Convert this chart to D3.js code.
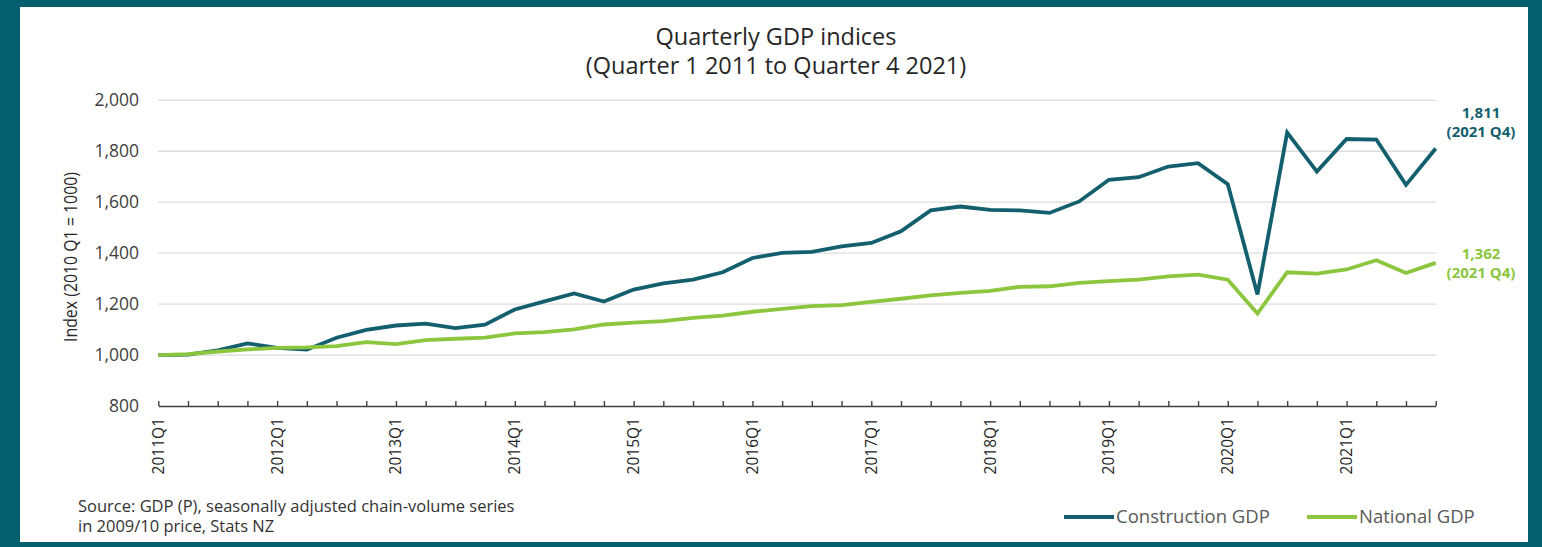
<!DOCTYPE html>
<html>
<head>
<meta charset="utf-8">
<script src="https://cdn.jsdelivr.net/npm/d3@7"></script>
<style>
  html, body { margin: 0; padding: 0; background: #04606f; }
  svg { display: block; }
  text { font-family: "Open Sans", "Noto Sans", "DejaVu Sans", sans-serif; }
</style>
</head>
<body>
<svg id="chart" width="1542" height="547"></svg>
<script>
// ---- Data ----
const quarters = [];
const years = [2011,2012,2013,2014,2015,2016,2017,2018,2019,2020,2021];
years.forEach(y => [1,2,3,4].forEach(q => quarters.push(y + "Q" + q)));

const constructionGDP = [
  1000, 1002, 1018, 1046, 1028, 1021, 1068, 1099, 1116, 1123, 1106, 1119,
  1179, 1211, 1242, 1210, 1257, 1281, 1296, 1325, 1381, 1401, 1405, 1427,
  1440, 1486, 1568, 1583, 1570, 1568, 1558, 1603, 1688, 1698, 1740, 1753,
  1671, 1238, 1873, 1720, 1848, 1846, 1668, 1811
];
const nationalGDP = [
  1000, 1004, 1014, 1022, 1028, 1030, 1035, 1051, 1043, 1059, 1064, 1068,
  1085, 1090, 1101, 1120, 1127, 1133, 1146, 1155, 1170, 1181, 1192, 1196,
  1209, 1221, 1234, 1244, 1252, 1268, 1270, 1283, 1290, 1296, 1309, 1316,
  1296, 1163, 1325, 1320, 1336, 1372, 1322, 1362
];
const yTicks = [800, 1000, 1200, 1400, 1600, 1800, 2000];
const seriesNames = ["Construction GDP", "National GDP"];
const titleLines = ["Quarterly GDP indices", "(Quarter 1 2011 to Quarter 4 2021)"];
const yAxisTitle = "Index (2010 Q1 = 1000)";
const sourceLines = ["Source: GDP (P), seasonally adjusted chain-volume series", "in 2009/10 price, Stats NZ"];
const endLabels = [["1,811", "(2021 Q4)"], ["1,362", "(2021 Q4)"]];

// ---- Styles ----
const colConstruction = "#135f6e";
const colNational = "#8cc63f";
const seriesColors = [colConstruction, colNational];

const svg = d3.select("#chart");

// white panel
svg.append("rect").attr("x", 20).attr("y", 7).attr("width", 1508).attr("height", 535).attr("fill", "#ffffff");

const x = d3.scalePoint().domain(quarters).range([158.3, 1435.7]);
const y = d3.scaleLinear().domain([800, 2000]).range([406, 100.3]);

// gridlines
svg.append("g").selectAll("line").data(yTicks.filter(d => d !== 800)).join("line")
  .attr("x1", 158).attr("x2", 1436)
  .attr("y1", d => y(d)).attr("y2", d => y(d))
  .attr("stroke", "#dcdcdc").attr("stroke-width", 1.3);

// y axis labels
const yAxis = d3.axisLeft(y).tickValues(yTicks).tickSize(0).tickPadding(0)
  .tickFormat(d3.format(","));
const gy = svg.append("g").attr("transform", "translate(139,0)").call(yAxis);
gy.select(".domain").remove();
gy.selectAll("text").attr("font-size", 17.5).attr("fill", "#404040")
  .attr("font-family", "'Open Sans', sans-serif");

// x axis
const xAxis = d3.axisBottom(x).tickSizeInner(-5).tickSizeOuter(0).tickFormat("");
const gx = svg.append("g").attr("transform", "translate(0,406)").call(xAxis);
gx.select(".domain").attr("stroke", "#404040").attr("stroke-width", 1.4);
gx.selectAll(".tick line").attr("stroke", "#404040").attr("stroke-width", 1.4);

// x labels (Q1 only), rotated
svg.append("g").selectAll("text").data(quarters.filter(q => q.endsWith("Q1"))).join("text")
  .attr("transform", d => `translate(${x(d) + 5.5},418) rotate(-90)`)
  .attr("text-anchor", "end")
  .attr("font-size", 15.5)
  .attr("font-family", "'Liberation Sans', Arial, sans-serif")
  .attr("fill", "#262626")
  .text(d => d);

// lines
const line = d3.line().x((d, i) => x(quarters[i])).y(d => y(d));
[constructionGDP, nationalGDP].forEach((vals, k) => {
  svg.append("path").datum(vals)
    .attr("d", line)
    .attr("fill", "none")
    .attr("stroke", seriesColors[k])
    .attr("stroke-width", 3.8)
    .attr("stroke-linejoin", "miter");
});

// end labels
const endYs = [[118, 137], [259, 278]];
endLabels.forEach((lines, k) => {
  lines.forEach((t, j) => {
    svg.append("text").attr("x", 1481).attr("y", endYs[k][j])
      .attr("text-anchor", "middle").attr("font-size", 15).attr("font-weight", "bold")
      .attr("fill", seriesColors[k]).text(t);
  });
});

// title
titleLines.forEach((t, i) => {
  svg.append("text").attr("x", 776).attr("y", 45 + i * 29)
    .attr("text-anchor", "middle").attr("font-size", 23.5)
    .attr("fill", "#262626").text(t);
});

// y axis title (condensed to match narrow font)
svg.append("text")
  .attr("transform", "translate(77,257) rotate(-90)")
  .attr("text-anchor", "middle").attr("font-size", 17.5)
  .attr("font-family", "'Liberation Sans', Arial, sans-serif")
  .attr("textLength", 170).attr("lengthAdjust", "spacingAndGlyphs")
  .attr("fill", "#262626").text(yAxisTitle);

// source
sourceLines.forEach((t, i) => {
  svg.append("text").attr("x", 78).attr("y", 512 + i * 20)
    .attr("font-size", 16.5).attr("fill", "#333333").text(t);
});

// legend
const legendX = [1064, 1307];
seriesNames.forEach((n, k) => {
  svg.append("line").attr("x1", legendX[k]).attr("x2", legendX[k] + 50)
    .attr("y1", 517).attr("y2", 517)
    .attr("stroke", seriesColors[k]).attr("stroke-width", 4);
  svg.append("text").attr("x", legendX[k] + 52).attr("y", 523)
    .attr("font-size", 18.5).attr("fill", "#595959").text(n);
});
</script>
</body>
</html>
